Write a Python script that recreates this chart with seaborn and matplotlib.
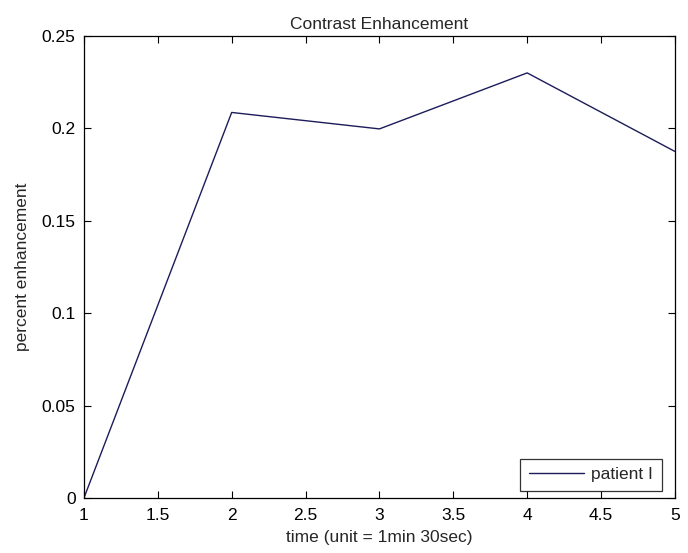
import matplotlib
matplotlib.use("Agg")
import matplotlib.pyplot as plt
import seaborn as sns
import pandas as pd

# Enhancement measured at each time step (1 unit = 1 min 30 sec)
time_steps = [1, 2, 3, 4, 5]
enhancement = [0.0, 0.2086, 0.1997, 0.2300, 0.1875]
series_label = "patient I"

x_ticks = [1, 1.5, 2, 2.5, 3, 3.5, 4, 4.5, 5]
y_ticks = [0, 0.05, 0.1, 0.15, 0.2, 0.25]

sns.set_style("ticks")
plt.rcParams["font.family"] = ["Liberation Sans", "DejaVu Sans"]

df = pd.DataFrame({"time": time_steps, "enh": enhancement})

fig = plt.figure(figsize=(6.88, 5.53), dpi=100)
ax = fig.add_axes([0.122, 0.0995, 0.859, 0.8355])

sns.lineplot(data=df, x="time", y="enh", ax=ax, color="#1c1c5a",
             linewidth=1.0, label=series_label)

fs = 12.5
ax.set_xlim(1, 5)
ax.set_ylim(0, 0.25)
ax.set_xticks(x_ticks)
ax.set_xticklabels([f"{v:g}" for v in x_ticks])
ax.set_yticks(y_ticks)
ax.set_yticklabels([f"{v:g}" for v in y_ticks])
ax.tick_params(direction="in", length=5, width=0.8, top=True, right=True,
               labelsize=fs, colors="black")
ax.tick_params(axis="x", pad=7)
ax.tick_params(axis="y", pad=6)
for s in ax.spines.values():
    s.set_visible(True)
    s.set_linewidth(0.9)
    s.set_color("black")

ax.set_title("Contrast Enhancement", fontsize=fs, pad=5)
ax.set_xlabel("time (unit = 1min 30sec)", fontsize=fs, labelpad=5)
ax.set_ylabel("percent enhancement", fontsize=fs, labelpad=8)

leg = ax.legend(loc="lower right", bbox_to_anchor=(0.978, 0.015),
                fontsize=fs, frameon=True, fancybox=False,
                edgecolor="black", borderpad=0.5, handlelength=3.2,
                handletextpad=0.4, borderaxespad=0.0)
leg.get_frame().set_linewidth(0.9)

fig.savefig("out.png", dpi=100, facecolor="white")
